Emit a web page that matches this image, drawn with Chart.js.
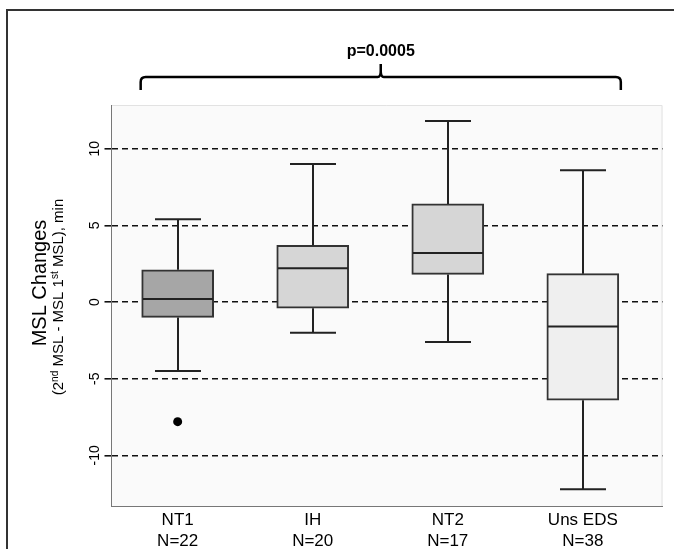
<!DOCTYPE html>
<html>
<head>
<meta charset="utf-8">
<script src="https://cdn.jsdelivr.net/npm/chart.js@4"></script>
<style>
  html, body { margin: 0; padding: 0; background: #fff; }
  #wrap { width: 674px; height: 549px; position: relative; }
</style>
</head>
<body>
<div id="wrap"><canvas id="boxChart"></canvas></div>
<script>
const groups = ['NT1', 'IH', 'NT2', 'Uns EDS'];
const counts = [22, 20, 17, 38];
const whiskerLow = [-4.5, -2.0, -2.6, -12.2];
const q1 = [-1.0, -0.4, 1.8, -6.4];
const median = [0.2, 2.2, 3.2, -1.6];
const q3 = [2.1, 3.7, 6.4, 1.85];
const whiskerHigh = [5.4, 9.0, 11.8, 8.6];
const outlierGroup = [0];
const outlierValue = [-7.8];
const yTicks = [-10, -5, 0, 5, 10];
const boxColors = ['#a6a6a6', '#d6d6d6', '#d6d6d6', '#efefef'];
const pLabel = 'p=0.0005';

Chart.defaults.font.family = "'Liberation Sans', Arial, sans-serif";
Chart.defaults.color = '#000';

const FONT = "'Liberation Sans', Arial, sans-serif";

// rotated text helper: baseline at x, centred on y
function drawRotated(ctx, parts, x, y) {
  ctx.save();
  ctx.translate(x, y);
  ctx.rotate(-Math.PI / 2);
  let total = 0;
  parts.forEach(p => { ctx.font = p.font; total += ctx.measureText(p.text).width; });
  let pos = -total / 2;
  ctx.textAlign = 'left';
  ctx.textBaseline = 'alphabetic';
  parts.forEach(p => {
    ctx.font = p.font;
    ctx.fillText(p.text, pos, p.rise ? -p.rise : 0);
    pos += ctx.measureText(p.text).width;
  });
  ctx.restore();
}

const boxExtras = {
  id: 'boxExtras',
  beforeDraw(chart) {
    const { ctx, chartArea: a } = chart;
    ctx.save();
    ctx.fillStyle = '#fafafa';
    ctx.fillRect(a.left, a.top, a.right - a.left, a.bottom - a.top);
    ctx.strokeStyle = '#e2e2e2';
    ctx.lineWidth = 1;
    ctx.beginPath();
    ctx.moveTo(a.left, a.top + 0.5);
    ctx.lineTo(a.right - 0.5, a.top + 0.5);
    ctx.lineTo(a.right - 0.5, a.bottom);
    ctx.stroke();
    // outer frame
    ctx.strokeStyle = '#333';
    ctx.lineWidth = 2;
    ctx.beginPath();
    ctx.moveTo(7, chart.height);
    ctx.lineTo(7, 10);
    ctx.lineTo(chart.width, 10);
    ctx.stroke();
    ctx.restore();
  },
  afterDatasetsDraw(chart) {
    const { ctx, scales: { x, y } } = chart;
    const line = (x1, y1, x2, y2) => {
      ctx.beginPath(); ctx.moveTo(x1, y1); ctx.lineTo(x2, y2); ctx.stroke();
    };
    ctx.save();
    ctx.strokeStyle = '#222';
    ctx.lineWidth = 2;
    groups.forEach((g, i) => {
      const cx = Math.round(x.getPixelForValue(i));
      const hi = y.getPixelForValue(whiskerHigh[i]);
      const lo = y.getPixelForValue(whiskerLow[i]);
      line(cx, y.getPixelForValue(q3[i]), cx, hi);
      line(cx, y.getPixelForValue(q1[i]), cx, lo);
      line(cx - 23, hi, cx + 23, hi);
      line(cx - 23, lo, cx + 23, lo);
      const m = y.getPixelForValue(median[i]);
      line(cx - 35, m, cx + 35, m);
    });
    ctx.restore();
  },
  afterDraw(chart) {
    const { ctx, scales: { x, y } } = chart;
    ctx.save();
    ctx.fillStyle = '#000';
    // y tick labels
    yTicks.forEach(v => {
      drawRotated(ctx, [{ text: String(v), font: '14px ' + FONT }], 99, y.getPixelForValue(v));
    });
    // y title
    drawRotated(ctx, [{ text: 'MSL Changes', font: '20px ' + FONT }], 46, 283);
    const f = '15px ' + FONT, s = '10px ' + FONT;
    drawRotated(ctx, [
      { text: '(2', font: f },
      { text: 'nd', font: s, rise: 5 },
      { text: ' MSL - MSL 1', font: f },
      { text: 'st', font: s, rise: 5 },
      { text: ' MSL), min', font: f }
    ], 63, 297);

    // brace over all groups
    const left = x.getPixelForValue(0) - 37;
    const right = x.getPixelForValue(groups.length - 1) + 38;
    const mid = (left + right) / 2;
    const by = 77, r = 5;
    ctx.strokeStyle = '#000';
    ctx.lineWidth = 2.5;
    ctx.beginPath();
    ctx.moveTo(left, 90);
    ctx.lineTo(left, by + r);
    ctx.quadraticCurveTo(left, by, left + r, by);
    ctx.lineTo(mid - 3, by);
    ctx.quadraticCurveTo(mid, by, mid, by - 6);
    ctx.lineTo(mid, by - 13);
    ctx.moveTo(mid, by - 6);
    ctx.quadraticCurveTo(mid, by, mid + 3, by);
    ctx.lineTo(right - r, by);
    ctx.quadraticCurveTo(right, by, right, by + r);
    ctx.lineTo(right, 90);
    ctx.stroke();
    ctx.font = 'bold 16px ' + FONT;
    ctx.textAlign = 'center';
    ctx.textBaseline = 'middle';
    ctx.fillText(pLabel, mid, 52);
    ctx.restore();
  }
};

new Chart(document.getElementById('boxChart'), {
  type: 'bar',
  data: {
    datasets: [
      {
        type: 'bar',
        data: groups.map((g, i) => ({ x: i, y: [q1[i], q3[i]] })),
        backgroundColor: boxColors,
        borderColor: '#333',
        borderWidth: 2,
        borderSkipped: false,
        barThickness: 72
      },
      {
        type: 'scatter',
        data: outlierGroup.map((g, k) => ({ x: g, y: outlierValue[k] })),
        backgroundColor: '#000',
        borderWidth: 0,
        pointRadius: 4.5
      }
    ]
  },
  options: {
    responsive: true,
    maintainAspectRatio: false,
    animation: false,
    layout: { padding: { top: 105, right: 11.5, left: 0, bottom: 0 } },
    plugins: { legend: { display: false }, tooltip: { enabled: false } },
    scales: {
      x: {
        type: 'linear',
        min: -0.49,
        max: 3.59,
        offset: false,
        afterBuildTicks: scale => { scale.ticks = groups.map((g, i) => ({ value: i })); },
        afterFit: scale => { scale.height = 43; },
        grid: { display: false, drawTicks: false },
        border: { display: true, color: '#777', width: 1 },
        ticks: {
          autoSkip: false,
          maxRotation: 0,
          padding: 4,
          font: { size: 17, lineHeight: 1.24 },
          color: '#000',
          callback: v => [groups[v], 'N=' + counts[v]]
        }
      },
      y: {
        min: -13.3,
        max: 12.85,
        afterBuildTicks: scale => { scale.ticks = yTicks.map(v => ({ value: v })); },
        afterFit: scale => { scale.width = 111.5; },
        grid: { color: '#111', lineWidth: 1.6, tickLength: 7, tickColor: '#111' },
        border: { display: true, color: '#777', width: 1, dash: [6, 4] },
        ticks: { display: false }
      }
    }
  },
  plugins: [boxExtras]
});
</script>
</body>
</html>
